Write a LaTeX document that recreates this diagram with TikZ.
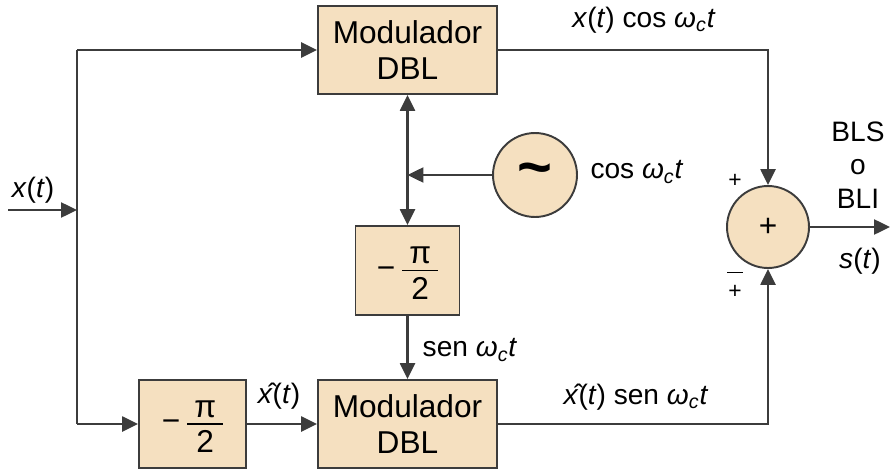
\documentclass[tikz,border=0pt]{standalone}
\usepackage{fontspec}
\setmainfont{Liberation Sans}
\usepackage{xcolor}
\usepackage{tikz}
\usetikzlibrary{positioning, arrows.meta, calc}

\definecolor{boxfill}{RGB}{245,224,192}
\definecolor{edge}{RGB}{60,60,60}

\newcommand{\wct}{\textit{ω}\textsubscript{\textit{c}}\textit{t}}
\newcommand{\xt}{\textit{x}(\textit{t})}
\newcommand{\xht}{\^{\textit{x}}(\textit{t})}
\newcommand{\mpihalf}{−\kern4pt{\renewcommand{\arraystretch}{0}\setlength{\arrayrulewidth}{0.9pt}\begin{tabular}{@{\hspace{4pt}}c@{\hspace{4pt}}}\rule[-3.5pt]{0pt}{18pt}π\\\hline\rule[-2pt]{0pt}{18pt}2\end{tabular}}}

\begin{document}
\begin{tikzpicture}[x=0.02cm, y=-0.02cm,
    font=\fontsize{16}{19}\selectfont,
    blockbox/.style={rectangle, draw=edge, line width=1.1pt, fill=boxfill, minimum width=#1, minimum height=1.76cm, align=center, inner sep=0pt, font=\fontsize{18}{21}\selectfont},
    roundnode/.style={circle, draw=edge, line width=1.1pt, fill=boxfill, minimum size=#1, inner sep=0pt},
    wire/.style={draw=edge, line width=1.2pt},
    arr/.style={wire, -{Triangle[length=9pt, width=8.5pt]}, #1}
]

\useasboundingbox (0,0) rectangle (890,470);

% blocks
\node[blockbox=3.58cm] (modtop) at (407.5,50) {Modulador\\DBL};
\node[blockbox=3.58cm] (modbot) at (407.5,424) {Modulador\\DBL};
\node[blockbox=2.14cm] (shiftbot) at (192.5,424) {\mpihalf};
\node[blockbox=2.08cm, minimum height=1.78cm] (shiftmid) at (407.5,270.5) {\mpihalf};
\node[roundnode=1.68cm, font=\fontsize{34}{34}\selectfont\bfseries] (osc) at (535,175) {\raisebox{-2pt}{\textasciitilde}};
\node[roundnode=1.64cm, font=\fontsize{18}{18}\selectfont] (sum) at (768,227) {+};

% junctions
\coordinate (in) at (8,210);
\coordinate (split) at (77,210);
\coordinate (topc) at (77,50);
\coordinate (botc) at (77,424);
\coordinate (tap) at (407.5,175);
\coordinate (out) at (890,227);

% input side
\draw[arr] (in) -- (split);
\draw[wire] (topc) -- (botc);
\draw[arr] (topc) -- (modtop);
\draw[arr] (botc) -- (shiftbot);
\draw[arr] (shiftbot) -- (modbot);

% carrier
\draw[arr] (osc) -- (tap);
\draw[wire, {Triangle[length=9pt, width=8.5pt]}-{Triangle[length=9pt, width=8.5pt]}] (modtop) -- (shiftmid);
\draw[arr] (shiftmid) -- (modbot);

% sum
\draw[arr] (modtop) -| (sum);
\draw[arr] (modbot) -| (sum);
\draw[arr] (sum) -- (out);

% labels
\node (lin) at (33,190) {\xt};
\node (lxh) at (279,396) {\xht};
\node (lcos) at (637,172) {cos \wct};
\node (lsen) at (470,350) {sen \wct};
\node (ltop) at (644,20) {\xt{} cos \wct};
\node (lbot) at (636,397) {\xht{} sen \wct};
\node[align=center] (lout) at (858,165) {BLS\\o\\BLI};
\node (lst) at (860,261) {\textit{s}(\textit{t})};
\node[font=\fontsize{13}{13}\selectfont] (lplus) at (735,181) {+};
\node[font=\fontsize{13}{13}\selectfont, align=center, inner sep=0pt] (lmp) at (735,285) {\rule{9pt}{0.8pt}\\[1pt]+};

\end{tikzpicture}
\end{document}
